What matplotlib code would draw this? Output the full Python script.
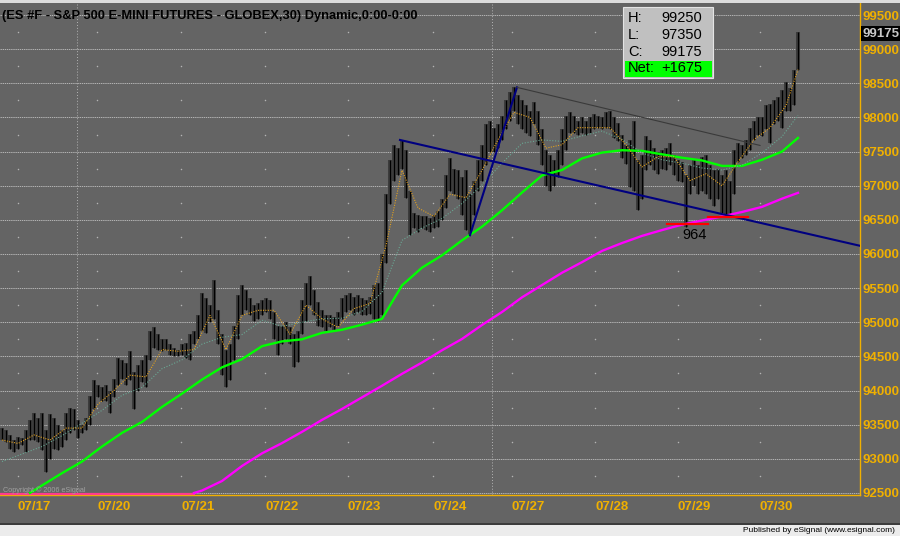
import matplotlib

matplotlib.use("Agg")

import matplotlib.pyplot as plt
from matplotlib.patches import Rectangle
import numpy as np

TITLE = "(ES #F - S&P 500 E-MINI FUTURES - GLOBEX,30) Dynamic,0:00-0:00"

# 30-minute bars (one entry per bar), prices as shown on the axis
bar_high = [
    93450, 93425, 93350, 93275, 93325, 93300, 93425, 93575, 93675, 93600,
    93675, 93425, 93650, 93600, 93500, 93425, 93675, 93750, 93725, 93575,
    93500, 93600, 93925, 94150, 94075, 94050, 94075, 94000, 94175, 94475,
    94450, 94400, 94575, 94275, 94375, 94450, 94525, 94875, 94925, 94825,
    94750, 94750, 94675, 94625, 94600, 94675, 94700, 94825, 94875, 95100,
    95425, 95350, 95250, 95625, 95175, 94825, 94600, 94675, 94950, 95400,
    95550, 95475, 95350, 95250, 95275, 95325, 95350, 95325, 95150, 94950,
    94950, 95000, 94925, 94825, 94875, 95325, 95575, 95675, 95475, 95300,
    95175, 95100, 95100, 95075, 95150, 95350, 95400, 95425, 95375, 95400,
    95350, 95325, 95375, 95550, 95575, 96000, 96875, 97375, 97600, 97550,
    97675, 97525, 96925, 96600, 96575, 96550, 96550, 96525, 96575, 96625,
    96800, 97150, 97400, 97250, 97225, 97125, 97225, 96875, 97075, 97375,
    97600, 97900, 97950, 97850, 97900, 98025, 98250, 98375, 98450, 98325,
    98250, 98175, 98100, 98225, 98100, 97825, 97525, 97450, 97375, 97525,
    97825, 98025, 98075, 98025, 97950, 98000, 97950, 98000, 98050, 98025,
    98000, 98075, 98100, 98000, 97925, 97750, 97600, 97675, 97950, 97375,
    97450, 97725, 97675, 97550, 97500, 97525, 97550, 97625, 97450, 97375,
    97350, 97150, 97300, 97375, 97300, 97425, 97450, 97300, 97225, 97250,
    97150, 97225, 97075, 97525, 97625, 97600, 97675, 97850, 97950, 98000,
    98000, 98175, 98200, 98250, 98300, 98400, 98525, 98425, 98700, 99250,
]
bar_low = [
    93275, 93250, 93150, 93100, 93150, 93200, 93100, 93275, 93275, 93250,
    93125, 92800, 93000, 93150, 93125, 93175, 93275, 93375, 93425, 93300,
    93375, 93425, 93500, 93725, 93900, 93850, 93850, 93675, 93900, 94075,
    94175, 94075, 94150, 93725, 94000, 94125, 94050, 94450, 94625, 94600,
    94575, 94600, 94525, 94500, 94500, 94525, 94475, 94450, 94675, 94750,
    94875, 94850, 95000, 95050, 94675, 94225, 94050, 94150, 94450, 94750,
    95100, 95175, 95100, 95025, 95050, 95100, 95150, 95050, 94750, 94525,
    94675, 94750, 94675, 94350, 94425, 94825, 95025, 95250, 95100, 94950,
    94925, 94875, 94925, 94875, 94950, 95050, 95150, 95175, 95100, 95150,
    95100, 95100, 95125, 95050, 95025, 95100, 95875, 96725, 97075, 97150,
    97250, 96825, 96275, 96375, 96325, 96375, 96350, 96325, 96375, 96400,
    96500, 96675, 96925, 96875, 96800, 96575, 96350, 96275, 96575, 96925,
    97075, 97300, 97500, 97500, 97550, 97675, 97825, 97950, 98100, 97900,
    97825, 97775, 97725, 97900, 97600, 97300, 97000, 96925, 97000, 97125,
    97300, 97525, 97775, 97775, 97750, 97775, 97750, 97775, 97825, 97850,
    97825, 97850, 97825, 97700, 97650, 97400, 97325, 96975, 96925, 96650,
    96800, 97225, 97300, 97225, 97175, 97250, 97225, 97300, 97150, 97075,
    97050, 96400, 96875, 97000, 96875, 96925, 96875, 96800, 96700, 96800,
    96600, 96550, 96575, 96875, 97350, 97400, 97450, 97525, 97675, 97750,
    97725, 97825, 97625, 97900, 97950, 97850, 98100, 98100, 98175, 98700,
]
last_close = 99175

fast_ma_bars = list(range(0, 197, 4)) + [199]
fast_ma = [
    93275, 93225, 93350, 93275, 93450, 93450, 93800, 94000, 94225, 94200,
    94600, 94575, 94600, 95100, 94600, 95100, 95175, 95175, 94825, 95250,
    95050, 94925, 95200, 95275, 96125, 97225, 96675, 96550, 96875, 96825,
    97225, 97675, 98075, 98000, 97550, 97600, 97850, 97850, 97850, 97600,
    97275, 97425, 97425, 97075, 97175, 97000, 97350, 97675, 97850, 98175,
    98700,
]
mid_ma_bars = list(range(0, 200, 5)) + [199]
mid_ma = [
    92960, 93070, 93180, 93340, 93520, 93710, 93930, 94045, 94320, 94450,
    94680, 94780, 94820, 95030, 94940, 95000, 95050, 95060, 95160, 95440,
    96200, 96380, 96520, 96740, 97010, 97330, 97620, 97670, 97650, 97730,
    97800, 97680, 97480, 97380, 97330, 97260, 97230, 97300, 97480, 97720,
    98030,
]
green_ma_bars = [7] + list(range(10, 200, 5)) + [199]
green_ma = [
    92500, 92610, 92790, 92960, 93180, 93380, 93540, 93760, 93955, 94160,
    94340, 94460, 94650, 94720, 94750, 94845, 94890, 94965, 95050, 95540,
    95800, 95980, 96200, 96400, 96640, 96900, 97150, 97230, 97400, 97485,
    97520, 97510, 97460, 97410, 97370, 97290, 97290, 97380, 97500, 97700,
]
magenta_ma_bars = [48] + list(range(50, 200, 5)) + [199]
magenta_ma = [
    92500, 92535, 92675, 92895, 93080, 93230, 93395, 93570, 93730, 93900,
    94070, 94245, 94410, 94590, 94755, 94960, 95150, 95365, 95545, 95725,
    95880, 96045, 96160, 96265, 96350, 96430, 96490, 96550, 96615, 96690,
    96810, 96895,
]

# drawn trendlines (bar, price)
channel_line = [(99.5, 97670), (214.5, 96120)]
rally_line = [(117, 96275), (128.75, 98440)]
top_line = [(128.75, 98440), (189.5, 97590)]
support_marks = [(166.25, 176.5, 96440), (176.5, 186.5, 96545)]
support_label = "964"

day_labels = ["07/17", "07/20", "07/21", "07/22", "07/23", "07/24",
              "07/27", "07/28", "07/29", "07/30"]
day_tick_bars = [4, 23.75, 44.75, 65.75, 86.5, 107.75, 127.5, 148.25, 169, 189.5]
week_start_bars = [18.75, 122.5]

info_rows = [("H:", "99250"), ("L:", "97350"), ("C:", "99175")]
net_row = ("Net:", "+1675")

BG = "#646464"
AXIS = "#f0b000"
GRID = "#b4b4b4"
W, H = 900, 536

plt.rcParams["font.family"] = ["Liberation Sans", "DejaVu Sans"]

fig = plt.figure(figsize=(9, 5.36), dpi=100, facecolor=BG)


def fx(x):
    return x / W


def fy(y):
    return 1 - y / H


ax = fig.add_axes([0, fy(495), fx(860), (495 - 3) / H])
ax.set_facecolor(BG)
ax.set_xlim(-0.5, 214.5)
ax.set_ylim(92470, 99676)

for s in ("left", "top"):
    ax.spines[s].set_visible(False)
for s in ("right", "bottom"):
    ax.spines[s].set_color(AXIS)
    ax.spines[s].set_linewidth(1.0)

ax.yaxis.tick_right()
ax.set_yticks(np.arange(92500, 99501, 500))
ax.tick_params(axis="y", length=0, pad=2, labelcolor=AXIS, labelsize=9.5)
ax.set_xticks(day_tick_bars, day_labels)
ax.tick_params(axis="x", length=0, pad=4, labelcolor=AXIS, labelsize=9.5)
for lab in ax.get_yticklabels():
    lab.set_fontweight("bold")
for lab in ax.get_xticklabels():
    lab.set_fontweight("bold")
    lab.set_ha("left")

ax.grid(axis="y", color=GRID, linestyle=(0, (1.4, 0.8)), linewidth=0.7)
ax.set_axisbelow(True)
for b in week_start_bars:
    ax.axvline(b, color=GRID, linestyle=(0, (1, 2)), linewidth=0.7, zorder=0.5)
minor_levels = np.arange(92750, 99500, 500)
for b in day_tick_bars:
    ax.scatter(np.full(len(minor_levels), b), minor_levels, s=1.2, color=GRID,
               linewidths=0, zorder=0.6)

bars = np.arange(len(bar_high))
ax.vlines(bars, bar_low, bar_high, color="#3c3c3c", linewidth=2.9, zorder=2)
ax.vlines(bars, bar_low, bar_high, color="black", linewidth=0.9, zorder=2.1)

# indicators
ax.plot([-0.5, magenta_ma_bars[0]], [92480, 92480], color="#ff3c8c", linewidth=1.6,
        zorder=3, clip_on=False)
ax.plot(magenta_ma_bars, magenta_ma, color="#ff00ff", linewidth=1.7, zorder=3)
ax.plot(green_ma_bars, green_ma, color="#00ff00", linewidth=1.7, zorder=3)
ax.plot(mid_ma_bars, mid_ma, color="#6aa894", linewidth=0.8, linestyle=(0, (1, 1.5)),
        zorder=3)
ax.plot(fast_ma_bars, fast_ma, color="#e0a020", linewidth=0.8, linestyle=(0, (1, 1.2)),
        zorder=3)

# trendlines
for line, col, lw in ((channel_line, "#000080", 1.5), (rally_line, "#000080", 1.5),
                      (top_line, "#3a3a3a", 0.8)):
    xs, ys = zip(*line)
    ax.plot(xs, ys, color=col, linewidth=lw, zorder=4)
for x0, x1, lv in support_marks:
    ax.plot([x0, x1], [lv, lv], color="#ff0000", linewidth=1.6, zorder=4)
ax.text(173.25, 96280, support_label, ha="center", va="center", fontsize=10.5,
        color="black", zorder=5)

# last price marker
ax.annotate(f"{last_close}", xy=(1, last_close), xycoords=("axes fraction", "data"),
            xytext=(2, 2.5), textcoords="offset points", ha="left", va="center",
            fontsize=9.5, fontweight="bold", color="#c8c8c8", annotation_clip=False,
            bbox=dict(boxstyle="square,pad=0.12", fc="black", ec="none"), zorder=6)

# title and captions
fig.text(fx(2), fy(15.5), TITLE, ha="left", va="center", fontsize=9.25,
         fontweight="bold", color="black")
fig.text(fx(3), fy(490), "Copyright \u00a9 2006 eSignal", ha="left", va="center",
         fontsize=5.2, color="#a0a0a0")

# frame strips
fig.patches.append(Rectangle((0, fy(536)), 1, 12 / H, transform=fig.transFigure,
                             facecolor="#ececec", edgecolor="none", zorder=0))
fig.patches.append(Rectangle((0, fy(524.5)), 1, 1.5 / H, transform=fig.transFigure,
                             facecolor="#3c3c3c", edgecolor="none", zorder=0))
fig.patches.append(Rectangle((0, fy(2.5)), 1, 2.5 / H, transform=fig.transFigure,
                             facecolor="#dcdcdc", edgecolor="none", zorder=0))
fig.text(fx(895), fy(530), "Published by eSignal (www.esignal.com)", ha="right",
         va="center", fontsize=6, color="black")

# info box
fig.patches.append(Rectangle((fx(623), fy(78)), fx(90), 71 / H, transform=fig.transFigure,
                             facecolor="#c0c0c0", edgecolor="#e4e4e4", linewidth=0.8,
                             zorder=7))
fig.patches.append(Rectangle((fx(625), fy(77)), fx(87), 16 / H, transform=fig.transFigure,
                             facecolor="#00ff00", edgecolor="none", zorder=7.1))
for k, (name, val) in enumerate(info_rows + [net_row]):
    yy = fy(18 + 16.8 * k)
    fig.text(fx(628), yy, name, ha="left", va="center", fontsize=10.5, color="black",
             zorder=8)
    fig.text(fx(702), yy, val, ha="right", va="center", fontsize=10.5, color="black",
             zorder=8)

fig.savefig("out.png", dpi=100, facecolor=BG)
